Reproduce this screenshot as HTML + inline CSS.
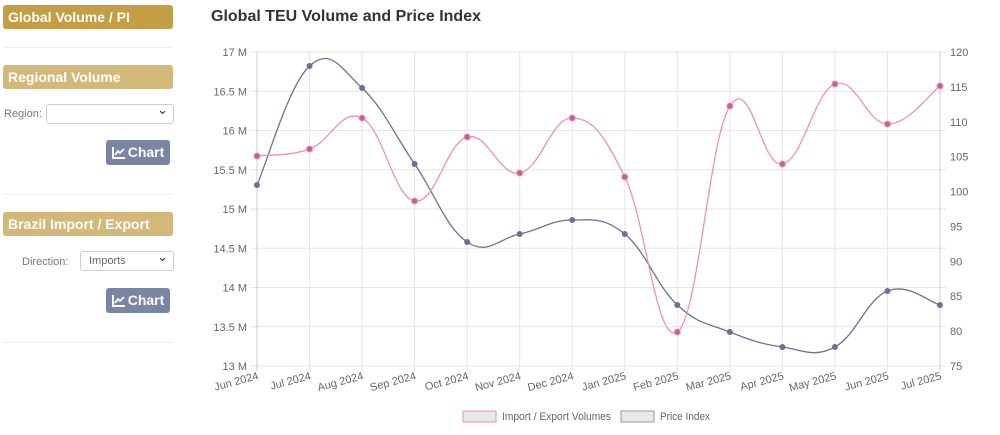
<!DOCTYPE html>
<html><head><meta charset="utf-8"><style>
body{margin:0;width:1000px;height:435px;background:#fff;font-family:"Liberation Sans",sans-serif;position:relative;overflow:hidden}
.hd{position:absolute;left:3px;width:170px;height:24px;border-radius:3px;color:#fff;font-weight:bold;font-size:14px;line-height:24px;padding-left:5px;box-sizing:border-box}
.hr{position:absolute;left:3px;width:170px;border-top:1px solid #eee}
.lbl{position:absolute;font-size:11px;color:#777}
.sel{position:absolute;height:20px;border:1px solid #ccc;border-radius:3px;box-sizing:border-box;font-size:11px;color:#666;line-height:18px;padding-left:8px}
.sel:after{content:"⌄";position:absolute;right:5px;top:-4px;font-size:13px;color:#333}
.btn{position:absolute;left:106px;width:64px;height:25px;background:#7a84a3;border-radius:3px;color:#fff;font-weight:bold;font-size:14px;line-height:25px;text-align:center}
.btn svg{vertical-align:-2px;margin-right:3px}
</style></head><body>
<div class="hd" style="top:5px;background:#c49d45">Global Volume / PI</div>
<div class="hr" style="top:47px"></div>
<div class="hd" style="top:65px;background:#d4b87a">Regional Volume</div>
<div class="lbl" style="left:4px;top:108px">Region:</div>
<div class="sel" style="left:46px;top:104px;width:128px"></div>
<div class="btn" style="top:140px"><svg width="13" height="12"><path d="M1 0V11H13" stroke="#fff" stroke-width="2" fill="none"/><path d="M3 8L6 4L8 6L12 2" stroke="#fff" stroke-width="1.8" fill="none"/></svg>Chart</div>
<div class="hr" style="top:194px"></div>
<div class="hd" style="top:212px;background:#d4b87a">Brazil Import / Export</div>
<div class="lbl" style="left:22px;top:256px">Direction:</div>
<div class="sel" style="left:80px;top:251px;width:94px">Imports</div>
<div class="btn" style="top:288px"><svg width="13" height="12"><path d="M1 0V11H13" stroke="#fff" stroke-width="2" fill="none"/><path d="M3 8L6 4L8 6L12 2" stroke="#fff" stroke-width="1.8" fill="none"/></svg>Chart</div>
<div class="hr" style="top:342px"></div>
<div style="position:absolute;left:211px;top:8px;font-size:16px;font-weight:bold;color:#333">Global TEU Volume and Price Index</div>
<svg id="s" width="1000" height="435" style="position:absolute;left:0;top:0" font-family="Liberation Sans, sans-serif"></svg>
<script>
var s=document.getElementById('s'),h='';
var x0=257,x1=940,y0=52,y1=366,n=14,dx=(x1-x0)/13;
var L=['Jun 2024','Jul 2024','Aug 2024','Sep 2024','Oct 2024','Nov 2024','Dec 2024','Jan 2025','Feb 2025','Mar 2025','Apr 2025','May 2025','Jun 2025','Jul 2025'];
for(var i=0;i<=8;i++){var y=y0+i*(y1-y0)/8;h+='<line x1="250" x2="946" y1="'+y+'" y2="'+y+'" stroke="#e6e6e6"/>';
h+='<text x="247" y="'+(y+4)+'" font-size="11" fill="#666" text-anchor="end">'+(17-i*0.5)+' M</text>';}
for(var i=0;i<=9;i++){var y=y0+i*(y1-y0)/9;h+='<text x="950" y="'+(y+4)+'" font-size="11" fill="#666">'+(120-i*5)+'</text>';}
for(var i=0;i<n;i++){var x=x0+i*dx;h+='<line x1="'+x+'" x2="'+x+'" y1="'+y0+'" y2="'+(y1+5)+'" stroke="'+(i==0||i==13?'#ccc':'#e6e6e6')+'"/>';
h+='<text transform="translate('+(x+2)+','+(y1+13)+') rotate(-15)" font-size="11" fill="#666" text-anchor="end">'+L[i]+'</text>';}
function path(Y){var P=Y.map(function(y,i){return[x0+i*dx,y]});var d='M'+P[0];var t=0.4;
for(var i=0;i<P.length-1;i++){var p0=P[Math.max(i-1,0)],p1=P[i],p2=P[i+1],p3=P[Math.min(i+2,P.length-1)];
var c1=[p1[0]+(p2[0]-p0[0])*t/2,p1[1]+(p2[1]-p0[1])*t/2],c2=[p2[0]-(p3[0]-p1[0])*t/2,p2[1]-(p3[1]-p1[1])*t/2];
d+=' C'+c1+' '+c2+' '+p2;}return d;}
var A=[156,149,118,201,137,173,118,177,332,106,164,84,124,86];
var B=[185,66,88,164,242,234,220,234,305,332,347,347,291,305];
h+='<path d="'+path(B)+'" fill="none" stroke="#6b7196" stroke-width="1.3"/>';
h+='<path d="'+path(A)+'" fill="none" stroke="#f48fb1" stroke-width="1.3"/>';
B.forEach(function(y,i){h+='<circle cx="'+(x0+i*dx)+'" cy="'+y+'" r="3" fill="#6b7196"/>'});
A.forEach(function(y,i){h+='<circle cx="'+(x0+i*dx)+'" cy="'+y+'" r="3" fill="#b06a8e" stroke="#f48fb1"/>'});
h+='<rect x="463" y="411" width="33" height="11" fill="#e8e8e8" stroke="#f48fb1"/><text x="502" y="420" font-size="11" fill="#666" textLength="109" lengthAdjust="spacingAndGlyphs">Import / Export Volumes</text>';
h+='<rect x="621" y="411" width="33" height="11" fill="#e8e8e8" stroke="#999"/><text x="660" y="420" font-size="11" fill="#666" textLength="50" lengthAdjust="spacingAndGlyphs">Price Index</text>';
s.innerHTML=h;
</script>
</body></html>
